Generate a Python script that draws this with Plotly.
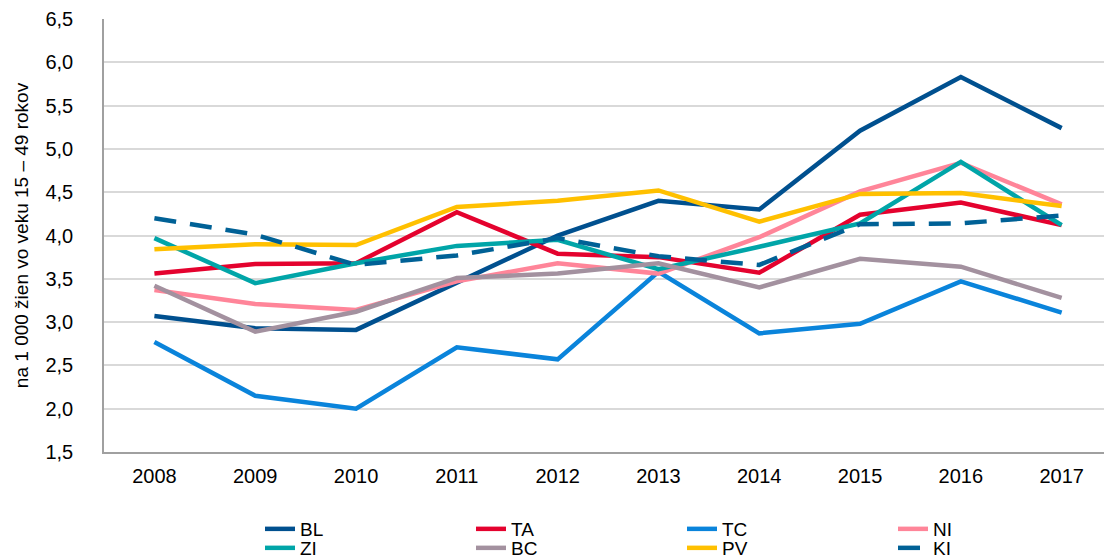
import plotly.graph_objects as go

years = [2008, 2009, 2010, 2011, 2012, 2013, 2014, 2015, 2016, 2017]

bl = [3.07, 2.93, 2.91, 3.45, 4.00, 4.40, 4.30, 5.21, 5.83, 5.24]
ta = [3.56, 3.67, 3.68, 4.27, 3.79, 3.75, 3.57, 4.24, 4.38, 4.12]
tc = [2.77, 2.15, 2.00, 2.71, 2.57, 3.58, 2.87, 2.98, 3.47, 3.11]
ni = [3.37, 3.21, 3.14, 3.47, 3.68, 3.56, 3.98, 4.51, 4.84, 4.36]
zi = [3.97, 3.45, 3.68, 3.88, 3.95, 3.61, 3.87, 4.14, 4.85, 4.12]
bc = [3.42, 2.89, 3.12, 3.51, 3.56, 3.68, 3.40, 3.73, 3.64, 3.28]
pv = [3.84, 3.90, 3.89, 4.33, 4.40, 4.52, 4.16, 4.48, 4.49, 4.34]
ki = [4.20, 4.01, 3.66, 3.77, 3.97, 3.76, 3.66, 4.13, 4.14, 4.23]

series = [
    ('BL', bl, '#00508f', 'solid', 'legend'),
    ('TA', ta, '#e4022e', 'solid', 'legend'),
    ('TC', tc, '#0a84db', 'solid', 'legend'),
    ('NI', ni, '#ff8599', 'solid', 'legend'),
    ('ZI', zi, '#00a5a8', 'solid', 'legend2'),
    ('BC', bc, '#a3919f', 'solid', 'legend2'),
    ('PV', pv, '#ffc000', 'solid', 'legend2'),
    ('KI', ki, '#006196', '22px,14px', 'legend2'),
]

fig = go.Figure()
for name, vals, color, dash, leg in series:
    fig.add_trace(go.Scatter(x=years, y=vals, name=name, mode='lines',
                             line={'color': color, 'width': 4.5, 'dash': dash},
                             legend=leg))

font = 'Liberation Sans, Arial, sans-serif'
legend_style = dict(orientation='h', xref='container', yref='container',
                    xanchor='left', yanchor='middle', entrywidth=166,
                    font=dict(size=19, color='#000000', family=font),
                    bgcolor='rgba(0,0,0,0)', tracegroupgap=0)

fig.update_layout(
    width=1104, height=558,
    margin=dict(l=104, r=0, t=19, b=106),
    paper_bgcolor='white', plot_bgcolor='white',
    separators=', ',
    font=dict(family=font, size=20, color='#000000'),
    showlegend=True,
    legend=dict(legend_style, x=260 / 1104, y=1 - 529 / 558),
    legend2=dict(legend_style, x=260 / 1104, y=1 - 548 / 558),
    xaxis=dict(
        range=[2007.5, 2017.42], tickvals=years, ticktext=[str(y) for y in years],
        showgrid=False, showline=True, linecolor='#a0a0a0', linewidth=1.5,
        ticks='', ticklabelstandoff=5, zeroline=False,
        tickfont=dict(size=20),
    ),
    yaxis=dict(
        range=[1.5, 6.5], dtick=0.5, tick0=1.5, tickformat='.1f',
        showgrid=True, gridcolor='#d9d9d9', gridwidth=1.5,
        showline=True, linecolor='#a0a0a0', linewidth=1.5,
        ticks='', ticklabelstandoff=25, zeroline=False,
        tickfont=dict(size=20),
        title=dict(text='na 1 000 žien vo veku 15 – 49 rokov', font=dict(size=19), standoff=12),
    ),
)

fig.write_html("out.html", config={'displayModeBar': False},
               post_script="document.body.style.margin='0';")
